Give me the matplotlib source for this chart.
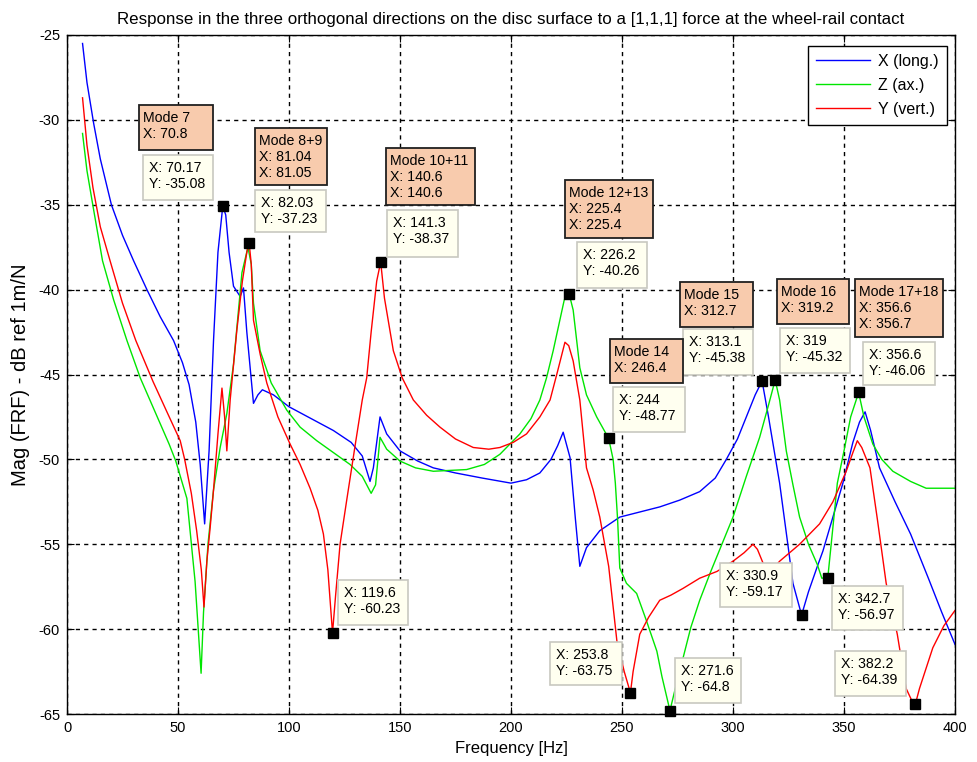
import matplotlib
matplotlib.use("Agg")
from matplotlib import pyplot as plt
from matplotlib.patches import Rectangle
import numpy as np

plt.rcParams['font.family'] = ['Liberation Sans', 'DejaVu Sans']
plt.rcParams['axes.unicode_minus'] = False

# ---- curves (Hz, dB) ----
blue_f = [7, 9, 12, 15, 20, 25, 30, 36, 42, 48, 52, 55, 58, 60, 62, 64, 66, 68, 70.17, 71.5, 73, 75, 78,
          79.5, 81, 84, 86, 88, 93, 100, 110, 120, 128, 133, 136.5, 138, 141, 144, 150, 158, 165, 175, 187,
          200, 207, 213, 218, 221, 223.5, 226.6, 229, 231, 234, 240, 249, 258, 267, 276, 285, 292, 297, 302,
          306, 310, 313.1, 316, 321, 325, 327, 330.9, 334, 338, 340.5, 345, 349.5, 354, 357, 359.5, 362, 366,
          373, 380, 388, 394, 400]
blue_m = [-25.5, -27.8, -30.2, -32.3, -35, -36.8, -38.3, -40, -41.6, -43, -44.3, -45.6, -47.8, -50.3, -53.8,
          -49.5, -43, -37.8, -35.08, -35.6, -37.8, -39.8, -40.4, -39.9, -42.5, -46.7, -46.2, -45.9, -46.2,
          -46.9, -47.6, -48.3, -49, -49.8, -51.3, -50.5, -47.5, -48.5, -49.5, -50.1, -50.5, -50.8, -51.1,
          -51.4, -51.2, -50.8, -50, -49.2, -48.4, -49.9, -53.5, -56.3, -55.2, -54.2, -53.4, -53.1, -52.8,
          -52.4, -51.9, -51.1, -50, -48.8, -47.5, -46.2, -45.38, -47.5, -51.4, -55.3, -57.3, -59.17, -57.8,
          -56.3, -55.4, -53.4, -51.4, -49, -47.8, -47.2, -48.3, -50.5, -52.5, -54.4, -57, -59, -60.9]

green_f = [7, 9, 12, 16, 21, 27, 33, 40, 46, 49, 54, 57.7, 60.4, 61.5, 63.5, 66, 69, 72, 75, 78.8, 81.5, 83,
           84, 87, 92, 99, 105, 112.5, 120, 127.5, 133, 137, 139, 141, 144, 150, 157, 165, 180, 188, 195,
           204, 209, 213, 216, 219, 222, 224, 226.2, 228, 231, 234, 238.6, 244, 246, 247, 248, 249, 252,
           256.6, 261, 265.7, 268, 271.6, 274, 277.5, 281, 285, 290, 295, 300, 306, 312, 316, 319, 321, 324,
           327, 330, 334, 338, 340, 342.7, 345, 347, 350, 353, 356.6, 359, 363, 367, 372, 380, 387, 400]
green_m = [-30.8, -33, -35.3, -38.3, -40.6, -43, -45.2, -47.3, -49.1, -50.1, -52.3, -57.2, -62.6, -59, -55,
           -51.8, -49.3, -47.3, -44.4, -39, -37.5, -38.5, -40.8, -43.6, -45.5, -47.1, -48.1, -48.9, -49.6,
           -50.3, -51, -52, -51.5, -48.7, -49.4, -50.1, -50.5, -50.7, -50.6, -50.3, -49.7, -48.5, -47.6,
           -46.5, -45.2, -43.6, -41.8, -40.6, -40.26, -41.2, -44.6, -46.2, -47.5, -48.77, -50, -51.4, -53.5,
           -56.4, -57.3, -57.9, -59.5, -61.3, -62.8, -64.8, -63.5, -61.7, -59.9, -58.3, -56.6, -55, -53.4,
           -51, -48.7, -46.8, -45.32, -46.5, -49.5, -51.5, -53.4, -55, -56.2, -57, -56.97, -54, -51.4, -49.5,
           -47.5, -46.06, -47.5, -49.1, -50, -50.7, -51.3, -51.7, -51.7]

red_f = [7, 9, 11.7, 15, 19.4, 25, 31, 38.7, 45, 51, 53, 56, 58.4, 60.5, 61.7, 63, 64.5, 66, 68, 69.8, 71, 72,
         73.5, 76.5, 79, 81, 82.03, 83, 84, 87, 90, 95, 100.5, 105, 109.5, 113, 115.5, 117.5, 119.6, 121, 123,
         126, 130, 133, 135, 137, 139.5, 141.3, 143, 147, 151, 156, 162, 168, 175, 183, 190, 195, 201, 207,
         213, 217.6, 221, 224.3, 226, 228, 231, 234, 237, 240, 244, 247.7, 251, 253.8, 255, 258, 262, 267,
         272, 277.5, 285, 292.8, 300, 305, 309, 311, 313.5, 317, 321, 330, 339, 345, 351, 354, 356, 358,
         361.7, 365, 369, 374, 378, 380.5, 382.2, 384, 387, 390, 395, 400]
red_m = [-28.7, -31.5, -34, -36.3, -38.3, -40.8, -43, -45.4, -47.2, -48.9, -50, -52, -54.2, -56.5, -58.7,
         -56, -54, -51.8, -48.5, -45.8, -47.5, -49.5, -46.5, -42.4, -39.5, -37.8, -37.23, -38.5, -41.8, -43.8,
         -45.5, -47.5, -49.1, -50.3, -51.7, -53, -54.4, -56.5, -60.23, -58, -55, -52.4, -49, -46.5, -45.2,
         -42.5, -39.5, -38.37, -40.5, -43.6, -45.2, -46.5, -47.4, -48.1, -48.8, -49.3, -49.4, -49.3, -49,
         -48.5, -47.5, -46.5, -44.8, -43.1, -43.3, -44.2, -46.5, -50.5, -51.8, -53.4, -56.3, -60.7, -62.5,
         -63.75, -62.5, -60.3, -59.3, -58.3, -58, -57.6, -57, -56.6, -56, -55.5, -55, -55.3, -56.1, -56.6,
         -56, -55, -53.8, -52.5, -50.7, -49.6, -48.9, -49.3, -50.5, -53.5, -57.3, -60.3, -63.5, -64.2,
         -64.39, -63.5, -62.3, -61.1, -59.8, -58.9]

series_names = ['X (long.)', 'Z (ax.)', 'Y (vert.)']

# data tips
tip_x = [70.17, 82.03, 141.3, 226.2, 244, 313.1, 319, 356.6, 119.6, 253.8, 271.6, 330.9, 342.7, 382.2]
tip_y = [-35.08, -37.23, -38.37, -40.26, -48.77, -45.38, -45.32, -46.06, -60.23, -63.75, -64.8, -59.17,
         -56.97, -64.39]
# boxes (left, top, right, bottom) in figure pixels
tip_box = [(143, 155, 213, 200), (255, 190, 326, 232), (387, 210, 458, 257), (577, 242, 647, 288),
           (613, 387, 685, 432), (683, 329, 753, 375), (780, 328, 850, 373), (863, 342, 935, 385),
           (338, 580, 408, 625), (550, 642, 622, 685), (675, 658, 741, 703), (720, 563, 792, 607),
           (832, 586, 903, 630), (835, 651, 906, 696)]

mode_names = ['Mode 7', 'Mode 8+9', 'Mode 10+11', 'Mode 12+13', 'Mode 14', 'Mode 15', 'Mode 16', 'Mode 17+18']
mode_freqs = [['70.8'], ['81.04', '81.05'], ['140.6', '140.6'], ['225.4', '225.4'], ['246.4'], ['312.7'],
              ['319.2'], ['356.6', '356.7']]
mode_box = [(139, 105, 213, 150), (255, 128, 327, 185), (386, 148, 475, 205), (565, 180, 653, 238),
            (610, 339, 683, 383), (680, 282, 753, 327), (777, 279, 849, 324), (855, 279, 943, 337)]

W, H = 978, 762
fig = plt.figure(figsize=(W / 100, H / 100), dpi=100)
ax = fig.add_axes([67 / W, 1 - 714 / H, (955 - 67) / W, (714 - 35) / H])

ax.plot(blue_f, blue_m, color='#0000ff', lw=1.0, label=series_names[0])
ax.plot(green_f, green_m, color='#00e600', lw=1.0, label=series_names[1])
ax.plot(red_f, red_m, color='#ff0000', lw=1.0, label=series_names[2])

ax.plot(tip_x, tip_y, 's', color='black', ms=7.5, zorder=5, clip_on=False)

ax.set_xlim(0, 400)
ax.set_ylim(-65, -25)
ax.set_xticks(np.arange(0, 401, 50))
ax.set_yticks(np.arange(-65, -24, 5))
ax.grid(True, color='black', linestyle=(0, (3, 3)), linewidth=1.0)
ax.tick_params(direction='in', top=True, right=True, length=5, labelsize=10.5, pad=5)
for s in ax.spines.values():
    s.set_linewidth(1.0)

ax.set_xlabel('Frequency [Hz]', fontsize=12, labelpad=4)
ax.set_ylabel('Mag (FRF) - dB ref 1m/N', fontsize=14.5, labelpad=6)
ax.set_title('Response in the three orthogonal directions on the disc surface to a [1,1,1] force at the wheel-rail contact',
             fontsize=12.2, pad=8)

leg = ax.legend(loc='upper right', bbox_to_anchor=(947 / W, 1 - 46 / H), bbox_transform=fig.transFigure,
                fancybox=False, edgecolor='black', fontsize=11.5, handlelength=3.4, borderaxespad=0,
                framealpha=1, labelspacing=0.55, handletextpad=0.5, borderpad=0.5)
leg.get_frame().set_linewidth(1.0)

fs = 10.2


def draw_box(box, text, fc, ec, lw, inset):
    l, t, r, b = box
    fig.add_artist(Rectangle((l / W, 1 - b / H), (r - l) / W, (b - t) / H, transform=fig.transFigure,
                             facecolor=fc, edgecolor=ec, linewidth=lw, zorder=6))
    fig.text((l + inset) / W, 1 - (t + 6) / H, text, ha='left', va='top', fontsize=fs,
             linespacing=1.2, zorder=7)


for box, x, y in zip(tip_box, tip_x, tip_y):
    draw_box(box, f'X: {x:.4g}\nY: {y:.4g}', '#fffff0', '#c8c8c0', 1.2, 6)

for box, name, fr in zip(mode_box, mode_names, mode_freqs):
    draw_box(box, name + ''.join(f'\nX: {v}' for v in fr), '#f8cbad', '#202020', 1.3, 4)

fig.savefig('out.png', dpi=100)
